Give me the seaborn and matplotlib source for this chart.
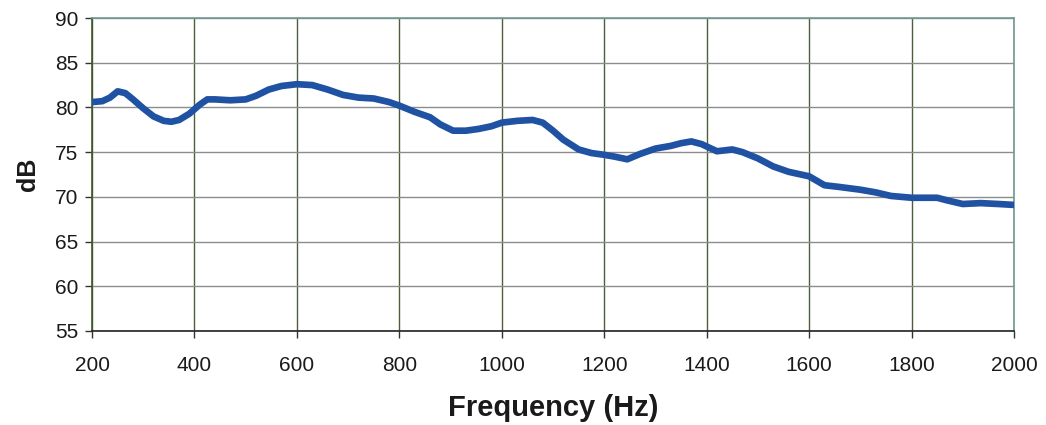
import matplotlib
matplotlib.use('Agg')
import matplotlib.pyplot as plt
import seaborn as sns
import pandas as pd

# Frequency response
freq_hz = [200, 220, 235, 250, 265, 280, 300, 320, 340, 355, 370, 390, 410, 425,
           440, 470, 500, 520, 545, 570, 600, 630, 660, 690, 720, 750, 780, 800,
           830, 860, 880, 905, 930, 955, 980, 1000, 1030, 1060, 1080, 1100, 1120,
           1150, 1175, 1200, 1220, 1245, 1270, 1300, 1330, 1350, 1370, 1390, 1420,
           1450, 1470, 1500, 1530, 1560, 1600, 1630, 1660, 1700, 1730, 1760, 1800,
           1850, 1870, 1900, 1935, 1970, 2000]
level_db = [80.6, 80.7, 81.1, 81.8, 81.6, 80.9, 79.9, 79.0, 78.5, 78.4, 78.6, 79.3,
            80.3, 80.9, 80.9, 80.8, 80.9, 81.3, 82.0, 82.4, 82.6, 82.5, 82.0, 81.4,
            81.1, 81.0, 80.6, 80.2, 79.5, 78.9, 78.1, 77.4, 77.4, 77.6, 77.9, 78.3,
            78.5, 78.6, 78.3, 77.4, 76.4, 75.3, 74.9, 74.7, 74.5, 74.2, 74.8, 75.4,
            75.7, 76.0, 76.2, 75.9, 75.1, 75.3, 75.0, 74.3, 73.4, 72.8, 72.3, 71.3,
            71.1, 70.8, 70.5, 70.1, 69.9, 69.9, 69.6, 69.2, 69.3, 69.2, 69.1]

x_ticks = [200, 400, 600, 800, 1000, 1200, 1400, 1600, 1800, 2000]
y_ticks = [55, 60, 65, 70, 75, 80, 85, 90]

sns.set_style('white')
plt.rcParams['font.family'] = ['Liberation Sans', 'DejaVu Sans']

df = pd.DataFrame({'Frequency (Hz)': freq_hz, 'dB': level_db})

fig = plt.figure(figsize=(10.46, 4.25), dpi=100)
ax = fig.add_axes([0.088, 0.2212, 0.8814, 0.7364])

sns.lineplot(data=df, x='Frequency (Hz)', y='dB', ax=ax,
             color='#1f52a2', linewidth=4.8, zorder=3)
ax.lines[0].set_solid_joinstyle('round')
ax.lines[0].set_solid_capstyle('round')

ax.set_xlim(200, 2000)
ax.set_ylim(55, 90)
ax.set_xticks(x_ticks)
ax.set_yticks(y_ticks)

# vertical grid olive-ish, horizontal grid gray
ax.xaxis.grid(True, color='#4d5e3a', linewidth=1.0)
ax.yaxis.grid(True, color='#8c8c8c', linewidth=1.0)
ax.set_axisbelow(True)

ax.spines['left'].set_color('#3d5a2a')
ax.spines['bottom'].set_color('#222222')
ax.spines['top'].set_color('#6f9a92')
ax.spines['right'].set_color('#6f9a92')
for s in ax.spines.values():
    s.set_linewidth(1.2)

ax.tick_params(axis='x', direction='out', length=5, width=1, color='#333333',
               pad=13, labelsize=15, labelcolor='#1a1a1a')
ax.tick_params(axis='y', direction='out', length=5, width=1, color='#333333',
               pad=5, labelsize=15, labelcolor='#1a1a1a')
ax.tick_params(bottom=True, left=True)

ax.set_xlabel('Frequency (Hz)', fontsize=21, fontweight='bold', labelpad=14,
              color='#1a1a1a')
ax.set_ylabel('dB', fontsize=18, fontweight='bold', labelpad=11, color='#1a1a1a')

fig.savefig('out.png', dpi=100)
plt.close(fig)
